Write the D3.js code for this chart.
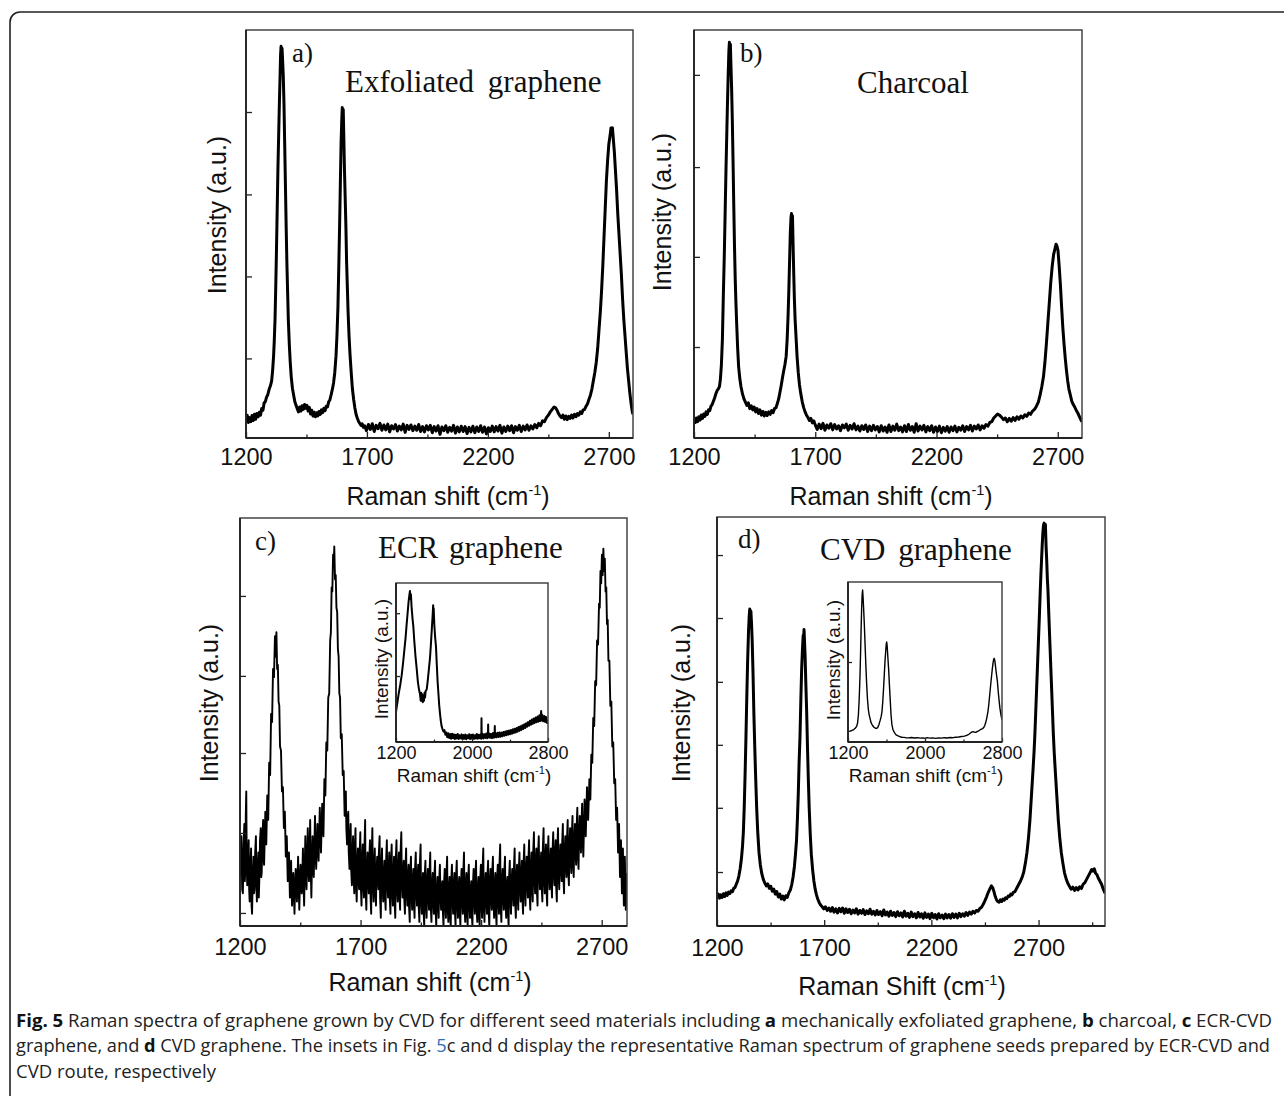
<!DOCTYPE html>
<html><head><meta charset="utf-8">
<script src="https://cdn.jsdelivr.net/npm/d3@7"></script>
<style>body{margin:0;background:#fff}</style>
</head><body>
<svg id="fig" width="1284" height="1096"></svg>
<script>
// ---------- DATA (Raman shift in cm-1, intensity in % of each panel's frame height) ----------
const ticksMainMajor = [1200, 1700, 2200, 2700];
const ticksMainMinor = [1450, 1950, 2450];
const ticksMainMinorD = [1450, 1950, 2450, 2950];
const ticksInset = [1200, 2000, 2800];
const ticksInsetMinor = [1600, 2400];
const yTicksA = [19.5, 39.6, 59.7, 79.9];
const yTicksB = [22.3, 44.4, 66.4, 89.0];
const yTicksC = [3.2, 22.8, 42.4, 61.3, 80.9];
const yTicksD = [13.2, 28.9, 44.3, 59.7, 75.3, 90.7];
const yTicksCi = [41.5, 81];
const yTicksDi = [50];

const specA = [[1200,4.2],[1205,5.6],[1210,3.8],[1215,5.0],[1220,4.0],[1225,5.5],[1230,4.3],[1235,5.8],[1240,4.6],[1245,6.0],[1250,5.2],[1255,6.3],[1260,5.6],[1265,7.2],[1270,6.8],[1275,8.6],[1280,8.9],[1285,10.0],[1290,10.6],[1296,12.0],[1301,12.8],[1306,14.0],[1310,16.5],[1314,20],[1317,24],[1320,29],[1323,37],[1326,46],[1329,56],[1332,66],[1335,74],[1338,82],[1341,89],[1343,94],[1345,96],[1347,92],[1349,95.5],[1351,93],[1354,89],[1357,82],[1360,72],[1363,62],[1366,52],[1369,43],[1372,36],[1375,29],[1379,23],[1383,18.5],[1387,15],[1392,12.2],[1397,10.5],[1402,8.9],[1407,8.0],[1412,7.2],[1417,6.4],[1422,7.6],[1427,6.6],[1432,7.9],[1437,7.0],[1442,8.2],[1447,7.3],[1452,8.0],[1457,6.6],[1462,7.5],[1467,5.9],[1472,6.8],[1477,5.4],[1482,6.3],[1487,5.2],[1492,6.2],[1497,5.4],[1502,6.5],[1507,5.8],[1512,6.9],[1517,6.2],[1522,7.3],[1527,6.7],[1532,7.8],[1537,7.6],[1542,8.9],[1547,9.4],[1552,10.6],[1557,11.9],[1562,13.5],[1567,16.0],[1572,20],[1576,25],[1580,32],[1584,43],[1587,52],[1590,62],[1593,72],[1596,78],[1598,81],[1600,79],[1602,80.5],[1604,75],[1607,66],[1610,59],[1613,52],[1616,43],[1619,37],[1622,31],[1626,25],[1630,20.5],[1635,16],[1640,12],[1645,9.5],[1650,7.4],[1655,5.8],[1660,4.9],[1665,4.1],[1670,3.6],[1675,3.1],[1680,3.5],[1685,2.6],[1690,3.0],[1698,1.8],[1706,3.3],[1714,2.1],[1722,3.5],[1730,1.6],[1738,3.1],[1746,2.3],[1754,3.6],[1762,1.9],[1770,3.2],[1778,2.0],[1786,3.4],[1794,1.5],[1802,3.0],[1810,2.2],[1818,3.3],[1826,1.7],[1834,2.9],[1842,2.0],[1850,3.4],[1858,1.4],[1866,3.1],[1874,2.1],[1882,3.2],[1890,1.8],[1898,2.9],[1906,1.9],[1914,3.3],[1922,1.6],[1930,2.8],[1938,1.5],[1946,3.0],[1954,2.0],[1962,3.1],[1970,1.3],[1978,2.8],[1986,1.7],[1994,3.0],[2002,0.9],[2010,2.7],[2018,1.8],[2026,3.0],[2034,1.4],[2042,2.6],[2050,1.7],[2058,3.1],[2066,1.2],[2074,2.7],[2082,1.5],[2090,2.9],[2098,1.6],[2106,2.8],[2114,1.1],[2122,2.6],[2130,1.5],[2138,2.9],[2146,1.3],[2154,2.7],[2162,1.6],[2170,3.0],[2178,1.4],[2186,2.7],[2194,1.0],[2202,2.5],[2210,1.6],[2218,2.9],[2226,1.5],[2234,2.8],[2242,1.7],[2250,3.1],[2258,1.2],[2266,2.7],[2274,1.6],[2282,2.9],[2290,1.8],[2298,3.0],[2306,1.3],[2314,2.8],[2322,1.9],[2330,3.1],[2338,1.6],[2346,2.9],[2354,2.0],[2362,3.2],[2370,1.9],[2378,3.0],[2386,2.2],[2394,3.3],[2402,2.5],[2410,3.6],[2418,3.0],[2426,4.2],[2434,4.0],[2442,5.0],[2450,5.6],[2458,6.4],[2466,7.0],[2474,7.6],[2480,7.4],[2486,6.8],[2492,6.0],[2498,5.4],[2504,5.0],[2510,5.6],[2516,4.6],[2522,5.4],[2528,4.5],[2534,5.3],[2540,4.8],[2546,5.6],[2552,4.9],[2558,5.8],[2564,5.2],[2570,6.0],[2576,5.6],[2582,6.4],[2588,6.0],[2594,6.9],[2600,7.0],[2606,7.8],[2612,8.4],[2618,9.5],[2624,10.5],[2630,12],[2636,14],[2642,16],[2648,18.5],[2654,22],[2660,27],[2665,31],[2670,36],[2675,42],[2680,49],[2685,56],[2690,63],[2695,68],[2700,72],[2705,74],[2709,76],[2712,75.5],[2715,76],[2719,73],[2723,70],[2727,66],[2732,61],[2737,55],[2742,50],[2747,45],[2752,40],[2757,34],[2762,29],[2767,25],[2772,21],[2777,17],[2782,14],[2787,11],[2792,8.5],[2797,6.5],[2800,5.8]];

const specB = [[1200,4.6],[1205,3.8],[1210,4.9],[1215,4.0],[1220,5.2],[1225,4.4],[1230,5.6],[1235,4.8],[1240,5.9],[1245,5.3],[1250,6.4],[1255,5.8],[1260,6.9],[1265,6.7],[1270,7.8],[1275,8.2],[1280,9.0],[1285,9.8],[1290,10.8],[1295,11.6],[1300,12.0],[1305,12.6],[1309,14.5],[1313,18],[1317,24],[1321,35],[1325,45],[1329,57],[1332,66],[1335,74],[1338,82],[1341,89],[1344,95],[1346,97],[1348,93],[1350,96.5],[1352,92],[1355,86],[1358,78],[1361,68],[1364,57],[1367,47],[1370,39],[1373,33],[1376,28],[1380,22],[1384,17.5],[1389,14.5],[1394,12.5],[1400,10.8],[1406,9.6],[1412,8.8],[1418,8.0],[1424,8.6],[1430,7.2],[1436,7.9],[1442,6.9],[1448,7.6],[1454,6.4],[1460,7.2],[1466,6.0],[1472,6.9],[1478,5.6],[1484,6.5],[1490,5.4],[1496,6.3],[1502,5.5],[1508,6.4],[1514,5.8],[1520,6.7],[1526,6.2],[1532,7.2],[1538,7.4],[1544,8.5],[1550,9.8],[1555,11.4],[1560,13],[1565,14.8],[1570,16.5],[1575,18],[1580,20],[1584,24],[1588,30],[1591,36],[1594,43],[1597,50],[1600,54],[1602,55],[1604,53],[1606,54.5],[1608,49],[1611,41],[1614,34],[1617,29],[1621,24.5],[1625,20],[1630,16],[1635,13],[1640,11],[1646,9],[1652,7.5],[1658,6.4],[1664,5.6],[1670,5.0],[1676,4.3],[1682,4.8],[1688,3.7],[1694,4.2],[1700,3.2],[1708,2.1],[1716,3.4],[1724,2.3],[1732,3.6],[1740,1.9],[1748,3.2],[1756,2.4],[1764,3.5],[1772,2.0],[1780,3.3],[1788,2.2],[1796,3.0],[1804,1.8],[1812,3.2],[1820,2.5],[1828,3.4],[1836,1.9],[1844,3.1],[1852,2.2],[1860,3.5],[1868,2.0],[1876,2.9],[1884,1.7],[1892,3.0],[1900,2.1],[1908,3.2],[1916,1.6],[1924,2.9],[1932,1.8],[1940,3.1],[1948,2.0],[1956,2.8],[1964,1.5],[1972,3.0],[1980,1.7],[1988,2.7],[1996,1.4],[2004,3.2],[2012,1.6],[2020,2.9],[2028,1.9],[2036,3.4],[2044,1.8],[2052,2.7],[2060,1.5],[2068,3.0],[2076,1.6],[2084,3.3],[2092,1.9],[2100,2.8],[2108,1.4],[2116,3.5],[2124,1.7],[2132,2.9],[2140,2.0],[2148,3.1],[2156,1.5],[2164,2.8],[2172,1.8],[2180,3.0],[2188,1.4],[2196,2.7],[2204,1.6],[2212,2.9],[2220,1.3],[2228,2.6],[2236,1.7],[2244,2.8],[2252,1.4],[2260,2.7],[2268,1.8],[2276,2.9],[2284,1.5],[2292,2.6],[2300,1.9],[2308,3.0],[2316,1.6],[2324,2.8],[2332,2.0],[2340,3.1],[2348,1.7],[2356,2.9],[2364,2.2],[2372,3.2],[2380,2.0],[2388,3.0],[2396,2.4],[2404,3.3],[2412,2.9],[2420,3.8],[2428,4.0],[2436,4.9],[2444,5.4],[2452,5.9],[2460,5.6],[2468,5.1],[2476,4.5],[2484,4.9],[2492,4.0],[2500,4.8],[2508,4.1],[2516,5.0],[2524,4.3],[2532,5.2],[2540,4.6],[2548,5.4],[2556,4.9],[2564,5.7],[2572,5.3],[2580,6.1],[2588,5.8],[2596,6.6],[2604,7.0],[2612,7.8],[2620,8.8],[2627,10.5],[2634,12.5],[2641,15],[2647,18.5],[2653,23],[2659,28],[2665,33],[2671,38],[2677,42],[2683,45],[2689,46.5],[2693,47.5],[2697,47],[2701,46],[2706,42],[2711,37.5],[2716,32],[2721,27],[2726,23],[2731,19.5],[2736,16.5],[2741,14],[2746,12],[2752,10.5],[2758,9.0],[2764,8.2],[2770,7.6],[2776,6.8],[2782,6.2],[2788,5.4],[2794,4.6],[2800,4.0]];

const specC = [[1200,12],[1203,19],[1206,22],[1209,9],[1212,8],[1215,20],[1218,25],[1220,11],[1222,14],[1224,27],[1226,33],[1228,15],[1230,10],[1233,17],[1236,21],[1238,9],[1240,6],[1243,14],[1246,19],[1248,5],[1250,3],[1253,12],[1256,17],[1258,8],[1260,9],[1263,18],[1266,22],[1268,10],[1270,6],[1273,14],[1276,18],[1278,7],[1280,11],[1283,21],[1286,24],[1288,12],[1290,13],[1293,22],[1296,26],[1298,16],[1300,15],[1305,28],[1309,20],[1313,32],[1317,26],[1321,40],[1325,37],[1329,52],[1333,50],[1337,63],[1341,61],[1345,71],[1348,66],[1351,72],[1354,63],[1357,64],[1360,55],[1363,54],[1366,44],[1370,43],[1374,33],[1378,34],[1382,24],[1386,28],[1390,17],[1394,22],[1398,11],[1403,18],[1407,7],[1410,12],[1412,16],[1414,8],[1416,5],[1419,10],[1421,13],[1424,7],[1426,3],[1429,11],[1431,14],[1434,9],[1436,6],[1439,13],[1441,17],[1444,8],[1446,4],[1449,12],[1451,15],[1454,10],[1456,8],[1459,14],[1461,19],[1464,9],[1466,5],[1469,16],[1471,22],[1474,12],[1476,9],[1479,18],[1481,24],[1484,14],[1486,11],[1489,20],[1491,26],[1494,12],[1496,7],[1499,17],[1501,22],[1504,15],[1506,12],[1509,21],[1511,27],[1514,17],[1516,14],[1519,20],[1521,25],[1524,19],[1526,16],[1529,24],[1531,29],[1534,21],[1536,18],[1539,26],[1541,30],[1544,25],[1546,22],[1550,36],[1554,32],[1558,45],[1562,43],[1566,56],[1570,57],[1574,70],[1577,72],[1580,83],[1583,82],[1586,91],[1589,88],[1591,93],[1594,85],[1597,86],[1600,78],[1603,77],[1606,68],[1609,66],[1612,57],[1615,56],[1618,46],[1622,47],[1626,37],[1630,38],[1634,27],[1636,31],[1639,33],[1641,24],[1644,20],[1646,25],[1649,28],[1651,18],[1654,14],[1656,21],[1659,25],[1661,14],[1664,10],[1666,17],[1669,22],[1671,12],[1674,8],[1676,18],[1679,24],[1681,11],[1684,6],[1686,14],[1689,19],[1691,12],[1694,9],[1696,17],[1699,23],[1701,10],[1704,5],[1706,15],[1709,20],[1711,11],[1714,7],[1716,19],[1719,26],[1721,9],[1724,4],[1726,13],[1729,18],[1731,12],[1734,8],[1736,16],[1739,21],[1741,8],[1744,3],[1746,17],[1749,24],[1751,11],[1754,6],[1756,14],[1759,19],[1761,9],[1764,5],[1766,13],[1769,17],[1771,12],[1774,9],[1776,18],[1779,22],[1781,7],[1784,2],[1786,14],[1789,19],[1791,10],[1794,6],[1796,12],[1799,16],[1801,8],[1804,4],[1806,16],[1809,21],[1811,11],[1814,7],[1816,13],[1819,18],[1821,7],[1824,3],[1826,15],[1829,20],[1831,9],[1834,5],[1836,12],[1839,17],[1841,6],[1844,2],[1846,16],[1849,21],[1851,10],[1854,6],[1856,13],[1859,18],[1861,8],[1864,4],[1866,18],[1869,23],[1871,11],[1874,7],[1876,12],[1879,16],[1881,7],[1884,3],[1886,14],[1889,19],[1891,9],[1894,5],[1896,11],[1899,15],[1901,5],[1904,1],[1906,13],[1909,17],[1911,8],[1914,4],[1916,10],[1919,14],[1921,6],[1924,2],[1926,14],[1929,18],[1931,9],[1934,5],[1936,11],[1939,15],[1941,5],[1944,1],[1946,15],[1949,20],[1951,7],[1954,3],[1956,9],[1959,13],[1961,4],[1964,0],[1966,12],[1969,16],[1971,6],[1974,2],[1976,10],[1979,14],[1981,8],[1984,4],[1986,13],[1989,18],[1991,5],[1994,1],[1996,9],[1999,13],[2001,7],[2004,3],[2006,12],[2009,16],[2011,4],[2014,0],[2016,8],[2019,12],[2021,6],[2024,2],[2026,11],[2029,15],[2031,8],[2034,4],[2036,8],[2039,11],[2041,4],[2044,0],[2046,10],[2049,14],[2051,6],[2054,2],[2056,12],[2059,17],[2061,5],[2064,1],[2066,8],[2069,12],[2071,3],[2074,0],[2076,11],[2079,15],[2081,7],[2084,3],[2086,9],[2089,13],[2091,4],[2094,0],[2096,12],[2099,16],[2101,6],[2104,2],[2106,8],[2109,12],[2111,4],[2114,0],[2116,10],[2119,14],[2121,7],[2124,3],[2126,13],[2129,18],[2131,5],[2134,1],[2136,9],[2139,13],[2141,4],[2144,0],[2146,11],[2149,15],[2151,6],[2154,2],[2156,8],[2159,11],[2161,3],[2164,0],[2166,10],[2169,14],[2171,7],[2174,3],[2176,12],[2179,16],[2181,5],[2184,1],[2186,8],[2189,12],[2191,3],[2194,0],[2196,11],[2199,15],[2201,6],[2204,2],[2206,14],[2209,19],[2211,5],[2214,1],[2216,9],[2219,13],[2221,7],[2224,3],[2226,12],[2229,16],[2231,4],[2234,0],[2236,10],[2239,14],[2241,8],[2244,4],[2246,13],[2249,17],[2251,6],[2254,2],[2256,9],[2259,13],[2261,4],[2264,0],[2266,11],[2269,15],[2271,7],[2274,3],[2276,15],[2279,20],[2281,5],[2284,1],[2286,10],[2289,14],[2291,8],[2294,4],[2296,13],[2299,17],[2301,6],[2304,2],[2306,9],[2309,12],[2311,4],[2314,0],[2316,12],[2319,16],[2321,7],[2324,3],[2326,10],[2329,14],[2331,9],[2334,5],[2336,14],[2339,19],[2341,6],[2344,2],[2346,11],[2349,15],[2351,8],[2354,4],[2356,13],[2359,18],[2361,10],[2364,6],[2366,12],[2369,16],[2371,7],[2374,3],[2376,15],[2379,20],[2381,9],[2384,5],[2386,13],[2389,17],[2391,11],[2394,7],[2396,16],[2399,21],[2401,8],[2404,4],[2406,14],[2409,18],[2411,10],[2414,6],[2416,18],[2419,23],[2421,12],[2424,8],[2426,15],[2429,19],[2431,9],[2434,5],[2436,17],[2439,22],[2441,13],[2444,9],[2446,14],[2449,18],[2451,10],[2454,6],[2456,19],[2459,24],[2461,12],[2464,8],[2466,16],[2469,20],[2471,9],[2474,5],[2476,17],[2479,22],[2481,13],[2484,9],[2486,15],[2489,19],[2491,11],[2494,7],[2496,18],[2499,23],[2501,14],[2504,10],[2506,17],[2509,21],[2511,10],[2514,6],[2516,19],[2519,24],[2521,13],[2524,9],[2526,16],[2529,20],[2531,15],[2534,11],[2536,20],[2539,25],[2541,12],[2544,8],[2546,17],[2549,22],[2551,16],[2554,12],[2556,21],[2559,26],[2561,14],[2564,10],[2566,19],[2569,24],[2571,17],[2574,13],[2576,22],[2579,27],[2581,16],[2584,12],[2586,20],[2589,25],[2591,19],[2594,15],[2596,24],[2599,29],[2601,18],[2604,14],[2606,22],[2609,27],[2611,22],[2614,18],[2616,25],[2619,30],[2621,21],[2624,17],[2629,31],[2634,22],[2639,34],[2644,26],[2649,36],[2653,31],[2657,42],[2661,40],[2665,51],[2669,49],[2673,60],[2677,59],[2681,70],[2685,69],[2689,79],[2692,78],[2695,87],[2698,84],[2701,91],[2704,86],[2707,92.5],[2710,87],[2713,90],[2716,82],[2719,83],[2722,74],[2725,75],[2728,65],[2732,65],[2736,54],[2740,55],[2744,44],[2748,45],[2752,35],[2756,36],[2760,26],[2764,29],[2768,18],[2772,25],[2776,12],[2780,21],[2784,8],[2788,19],[2792,5],[2796,17],[2800,4],[2805,13]];

const specD = [[1200,7.0],[1206,7.8],[1212,6.8],[1218,7.6],[1224,7.0],[1230,7.9],[1236,7.2],[1242,8.1],[1248,7.5],[1254,8.3],[1260,7.9],[1266,8.6],[1272,8.4],[1278,9.2],[1284,9.4],[1290,10.2],[1296,11.0],[1302,12.2],[1308,14.0],[1314,16.5],[1319,19.5],[1323,23],[1327,29],[1331,37],[1335,46],[1339,56],[1343,65],[1347,72],[1350,75.5],[1353,77.5],[1356,75],[1358,77],[1361,74],[1364,70],[1368,62],[1372,52],[1376,44],[1380,37],[1385,29],[1390,23],[1396,18],[1402,15],[1409,12.8],[1416,11.4],[1423,10.5],[1430,9.8],[1437,10.3],[1444,9.2],[1451,9.7],[1458,8.5],[1465,9.0],[1472,7.8],[1479,8.4],[1486,7.1],[1493,7.8],[1500,6.6],[1507,7.3],[1514,6.4],[1521,7.4],[1528,7.0],[1535,8.1],[1542,8.8],[1549,10.2],[1555,12],[1561,14.5],[1566,17.5],[1571,21],[1575,26],[1579,32],[1583,40],[1587,46],[1591,55],[1595,63],[1599,68],[1602,71],[1604,70],[1606,72.5],[1608,70],[1611,66],[1614,60],[1618,53],[1622,44],[1626,36],[1630,29],[1635,22.5],[1640,17.5],[1646,13.8],[1652,11],[1658,9.0],[1664,7.6],[1670,6.6],[1677,5.7],[1684,5.1],[1691,4.7],[1698,4.2],[1706,4.7],[1714,3.8],[1722,4.4],[1730,3.6],[1738,4.5],[1746,3.4],[1754,4.2],[1762,3.2],[1770,4.3],[1778,3.5],[1786,4.4],[1794,3.1],[1802,4.2],[1810,3.3],[1818,4.1],[1826,3.0],[1834,3.9],[1842,3.2],[1850,4.2],[1858,2.9],[1866,3.8],[1874,3.1],[1882,4.0],[1890,2.8],[1898,3.7],[1906,3.0],[1914,4.1],[1922,2.9],[1930,3.6],[1938,2.7],[1946,3.8],[1954,2.8],[1962,3.5],[1970,2.5],[1978,3.9],[1986,2.7],[1994,3.4],[2002,2.4],[2010,3.6],[2018,2.6],[2026,3.3],[2034,2.3],[2042,3.5],[2050,2.5],[2058,3.2],[2066,2.2],[2074,3.6],[2082,2.4],[2090,3.1],[2098,2.1],[2106,3.4],[2114,2.3],[2122,3.0],[2130,2.0],[2138,3.3],[2146,2.2],[2154,3.0],[2162,1.9],[2170,3.2],[2178,2.1],[2186,2.9],[2194,1.8],[2202,3.1],[2210,2.0],[2218,2.8],[2226,1.7],[2234,3.0],[2242,2.0],[2250,2.7],[2258,1.8],[2266,2.9],[2274,2.0],[2282,2.8],[2290,1.9],[2298,3.0],[2306,2.1],[2314,2.9],[2322,2.0],[2330,3.1],[2338,2.3],[2346,3.0],[2354,2.4],[2362,3.3],[2370,2.6],[2378,3.4],[2386,2.9],[2394,3.6],[2402,3.2],[2410,3.8],[2418,3.6],[2426,4.3],[2434,4.6],[2442,5.3],[2450,6.2],[2458,7.2],[2466,8.3],[2474,9.2],[2480,9.8],[2486,9.4],[2492,8.4],[2498,7.2],[2504,6.4],[2510,6.0],[2516,5.8],[2522,6.4],[2528,6.0],[2534,6.6],[2540,6.3],[2546,6.9],[2552,6.7],[2558,7.3],[2564,7.2],[2570,7.8],[2576,7.6],[2582,8.2],[2590,8.4],[2600,9.4],[2608,10.2],[2616,11],[2624,12],[2631,13.2],[2639,15.5],[2646,18],[2653,21.5],[2660,26],[2667,32],[2674,38],[2679,42.5],[2683,47],[2687,52.5],[2691,58],[2695,63.5],[2699,69],[2704,76],[2708,82],[2711,86],[2714,89.5],[2717,93],[2720,96],[2723,98],[2726,98.5],[2729,97.3],[2732,98.2],[2735,93],[2738,89.5],[2741,85],[2744,82],[2748,76],[2753,69],[2757,63.5],[2761,58],[2765,52.5],[2769,47],[2773,42.5],[2778,38],[2785,32],[2792,26],[2799,21.5],[2806,18],[2813,15.5],[2821,13],[2829,11.5],[2836,10.5],[2844,9.7],[2852,9.0],[2860,9.5],[2868,8.7],[2876,9.4],[2884,8.8],[2892,9.6],[2900,9.2],[2908,10.2],[2916,10.6],[2924,11.4],[2932,12.2],[2940,13.0],[2948,13.8],[2954,13.4],[2960,14.0],[2966,12.9],[2972,12.6],[2978,11.8],[2986,11.0],[2994,10.2],[3002,9.0],[3010,8.0]];

const specCi = [[1200,19],[1215,25],[1230,31],[1245,36],[1260,42],[1275,50],[1290,59],[1300,65],[1312,74],[1322,81],[1332,88],[1340,92],[1347,95],[1352,90],[1357,93],[1365,84],[1375,77],[1382,73],[1392,64],[1405,54],[1418,46],[1430,38],[1442,33],[1453,30],[1460,26],[1465,31],[1470,26],[1476,30],[1482,25],[1488,29],[1494,26],[1500,31],[1506,28],[1512,32],[1523,33],[1533,38],[1545,45],[1558,53],[1568,62],[1578,72],[1586,80],[1591,86],[1594,81],[1597,84],[1603,74],[1612,66],[1621,60],[1630,48],[1638,38],[1646,31],[1655,23],[1663,18],[1670,14],[1680,10],[1690,8],[1700,6.5],[1710,7.5],[1720,4.5],[1730,6],[1740,3],[1750,5.5],[1760,2.5],[1770,5],[1780,2],[1790,5.2],[1800,2.4],[1810,4.8],[1820,1.8],[1830,4.6],[1840,2.2],[1850,5.0],[1860,1.9],[1870,4.3],[1880,2.3],[1890,4.8],[1900,1.6],[1910,4.4],[1920,2.0],[1930,4.7],[1940,1.7],[1950,4.2],[1960,2.4],[1970,4.9],[1980,1.8],[1990,4.5],[2000,2.1],[2010,4.7],[2020,1.9],[2030,4.3],[2040,2.2],[2050,5.0],[2060,2.0],[2070,4.6],[2080,2.3],[2090,4.8],[2098,2.0],[2100,15],[2102,3],[2110,5.2],[2120,2.2],[2130,4.9],[2140,2.5],[2150,5.3],[2160,2.3],[2168,4.5],[2170,11],[2172,2.8],[2180,5.4],[2190,2.6],[2200,5.1],[2210,2.4],[2220,5.6],[2230,2.7],[2238,5.0],[2240,10],[2242,3],[2250,5.5],[2260,2.9],[2270,5.8],[2280,3.1],[2290,6.0],[2300,3.3],[2310,5.9],[2320,3.6],[2330,6.3],[2340,3.9],[2350,6.6],[2360,4.2],[2370,7.0],[2380,4.5],[2390,7.3],[2400,4.9],[2410,7.6],[2420,5.2],[2430,8.0],[2440,5.6],[2450,8.4],[2460,6.0],[2470,8.8],[2480,6.5],[2490,9.4],[2500,7.0],[2510,9.9],[2520,7.6],[2530,10.5],[2540,8.2],[2550,11.2],[2560,8.8],[2570,11.8],[2580,9.6],[2590,12.5],[2600,10.2],[2610,13.4],[2620,10.8],[2630,14.2],[2640,11.4],[2650,14.8],[2660,12.0],[2670,15.4],[2680,12.4],[2690,16.0],[2700,12.8],[2710,16.8],[2720,13.2],[2728,19.5],[2734,13.5],[2740,17.0],[2750,13.0],[2760,16.4],[2770,12.6],[2780,15.8],[2790,12.0],[2800,14.0]];

const specDi = [[1200,6.5],[1220,6.8],[1240,7.2],[1260,7.8],[1275,8.6],[1290,9.8],[1300,12],[1308,17],[1315,25],[1320,33],[1325,42],[1330,54],[1336,70],[1342,84],[1347,92],[1352,95],[1357,90],[1362,84],[1370,73],[1378,60],[1386,47],[1394,36],[1402,27],[1412,20],[1420,17],[1429,14.8],[1440,12],[1455,10.3],[1470,9.2],[1485,8.6],[1498,8.5],[1510,9.2],[1522,11],[1534,13.5],[1545,16],[1553,19],[1561,25],[1569,33],[1577,42],[1585,51],[1592,57],[1597,61],[1602,62.5],[1607,60],[1613,54],[1622,45.6],[1630,36],[1638,27],[1647,17],[1656,11],[1666,8],[1677,6.5],[1688,5.4],[1700,4.4],[1720,3.8],[1740,3.3],[1760,3.0],[1780,2.9],[1800,2.7],[1830,2.6],[1860,2.8],[1890,2.5],[1920,2.7],[1950,2.4],[1980,2.6],[2000,2.3],[2020,2.7],[2050,2.4],[2080,2.6],[2110,2.3],[2140,2.6],[2170,2.4],[2200,2.7],[2230,2.5],[2260,2.8],[2290,2.7],[2320,3.0],[2350,3.1],[2380,3.4],[2410,3.7],[2440,4.3],[2460,5.0],[2475,5.8],[2488,6.3],[2500,6.4],[2512,6.2],[2525,6.0],[2540,6.4],[2555,6.9],[2570,7.5],[2585,8.0],[2600,8.4],[2612,9.2],[2622,10.5],[2632,12.5],[2640,14.5],[2648,17],[2655,19.5],[2662,23],[2670,28],[2678,33],[2686,38],[2693,42],[2700,46],[2707,49.5],[2713,51.5],[2719,52.3],[2725,51],[2731,48],[2737,45],[2744,41.5],[2752,38],[2760,32],[2768,27],[2774,23.5],[2779,21],[2785,18.5],[2792,16],[2800,14]];

const panelLetters = ['a)', 'b)', 'c)', 'd)'];
const panelTitles = ['Exfoliated graphene', 'Charcoal', 'ECR graphene', 'CVD graphene'];
const xTitleMain = 'Raman shift (cm';
const xTitleD = 'Raman Shift (cm';
const xTitleSup = '-1';
const yTitle = 'Intensity (a.u.)';
const captionLines = [
  [['Fig. 5','b'],[' Raman spectra of graphene grown by CVD for different seed materials including ',''],['a','b'],[' mechanically exfoliated graphene, ',''],['b','b'],[' charcoal, ',''],['c','b'],[' ECR-CVD','']],
  [['graphene, and ',''],['d','b'],[' CVD graphene. The insets in Fig. ',''],['5','link'],['c and d display the representative Raman spectrum of graphene seeds prepared by ECR-CVD and','']],
  [['CVD route, respectively','']]
];

// ---------- DRAWING ----------
const SANS = "'Liberation Sans', Arial, Helvetica, sans-serif";
const SERIF = "'Liberation Serif', 'Times New Roman', serif";
const svg = d3.select('#fig');
const defs = svg.append('defs');

svg.append('rect').attr('x', 10).attr('y', 12).attr('width', 1300).attr('height', 1110)
  .attr('rx', 10).attr('fill', 'none').attr('stroke', '#222').attr('stroke-width', 1.6);

function xTitle(g, cx, baseline, main, fs) {
  const t = g.append('text').attr('x', cx).attr('y', baseline).attr('text-anchor', 'middle')
    .attr('font-family', SANS).attr('font-size', fs).attr('fill', '#111');
  t.append('tspan').text(main);
  t.append('tspan').attr('dy', -fs * 0.42).attr('font-size', fs * 0.58).text(xTitleSup);
  t.append('tspan').attr('dy', fs * 0.42).text(')');
}
function yTitleText(g, bx, cy, fs) {
  g.append('text').attr('transform', `translate(${bx},${cy}) rotate(-90)`).attr('text-anchor', 'middle')
    .attr('font-family', SANS).attr('font-size', fs).attr('fill', '#111').text(yTitle);
}

function panel(o) {
  const x = d3.scaleLinear().domain(o.xDomain).range([o.left, o.right]);
  const y = d3.scaleLinear().domain([0, 100]).range([o.bottom, o.top]);
  const g = svg.append('g');
  defs.append('clipPath').attr('id', 'clip' + o.id).append('rect')
    .attr('x', o.left).attr('y', o.top - 2).attr('width', o.right - o.left).attr('height', o.bottom - o.top + 2);
  if (o.inset) g.append('rect').attr('x', o.left).attr('y', o.top).attr('width', o.right - o.left)
    .attr('height', o.bottom - o.top).attr('fill', '#fff');
  g.append('path').datum(o.data).attr('clip-path', `url(#clip${o.id})`)
    .attr('fill', 'none').attr('stroke', '#000').attr('stroke-width', o.lw).attr('stroke-linejoin', 'round')
    .attr('d', d3.line().x(d => x(d[0])).y(d => y(d[1])));

  const xa = g.append('g').attr('transform', `translate(0,${o.bottom})`)
    .call(d3.axisBottom(x).tickValues(o.xMajor).tickSize(-o.tick).tickPadding(o.pad).tickFormat(d3.format('d')));
  xa.select('.domain').remove();
  xa.attr('font-family', SANS).attr('font-size', o.fs);
  xa.selectAll('text').attr('fill', '#111');
  xa.selectAll('line').attr('stroke', '#222').attr('stroke-width', 1.3);
  const xm = g.append('g').attr('transform', `translate(0,${o.bottom})`)
    .call(d3.axisBottom(x).tickValues(o.xMinor).tickSize(-o.tick * 0.6).tickFormat(''));
  xm.select('.domain').remove();
  xm.selectAll('line').attr('stroke', '#222').attr('stroke-width', 1.3);
  const ya = g.append('g').attr('transform', `translate(${o.left},0)`)
    .call(d3.axisLeft(y).tickValues(o.yTicks).tickSize(-o.tick).tickFormat(''));
  ya.select('.domain').remove();
  ya.selectAll('line').attr('stroke', '#222').attr('stroke-width', 1.3);

  g.append('rect').attr('x', o.left).attr('y', o.top).attr('width', o.right - o.left).attr('height', o.bottom - o.top)
    .attr('fill', 'none').attr('stroke', '#444').attr('stroke-width', 1.5);
  g.append('line').attr('x1', o.left).attr('x2', o.right).attr('y1', o.bottom).attr('y2', o.bottom)
    .attr('stroke', '#222').attr('stroke-width', 1.8);
  g.append('line').attr('x1', o.left).attr('x2', o.left).attr('y1', o.top).attr('y2', o.bottom)
    .attr('stroke', '#222').attr('stroke-width', 1.8);

  xTitle(g, o.xtCx, o.xtBase, o.xtText, o.tfs);
  yTitleText(g, o.ytBx, o.ytCy, o.tfs);
  if (o.letter) {
    g.append('text').attr('x', o.letter[1]).attr('y', o.letter[2]).attr('font-family', SERIF)
      .attr('font-size', 27).attr('fill', '#111').text(o.letter[0]);
    g.append('text').attr('x', o.title[1]).attr('y', o.title[2]).attr('font-family', SERIF)
      .attr('font-size', o.title[3]).attr('word-spacing', o.title[4]).attr('fill', '#111').text(o.title[0]);
  }
}

panel({id:'A', data:specA, xDomain:[1200,2800], left:246, right:633, top:30, bottom:438,
  xMajor:ticksMainMajor, xMinor:ticksMainMinor, yTicks:yTicksA, tick:6, pad:10, fs:23.5, lw:3,
  xtCx:448, xtBase:505, xtText:xTitleMain, tfs:25, ytBx:226, ytCy:215,
  letter:[panelLetters[0],292,62], title:[panelTitles[0],345,92,31,6]});
panel({id:'B', data:specB, xDomain:[1200,2800], left:694, right:1082, top:30, bottom:438,
  xMajor:ticksMainMajor, xMinor:ticksMainMinor, yTicks:yTicksB, tick:6, pad:10, fs:23.5, lw:3,
  xtCx:891, xtBase:505, xtText:xTitleMain, tfs:25, ytBx:671, ytCy:212,
  letter:[panelLetters[1],740,62], title:[panelTitles[1],857,93,31,0]});
panel({id:'C', data:specC, xDomain:[1200,2805], left:240, right:627, top:518, bottom:926,
  xMajor:ticksMainMajor, xMinor:ticksMainMinor, yTicks:yTicksC, tick:6, pad:12, fs:23.5, lw:1.9,
  xtCx:430, xtBase:991, xtText:xTitleMain, tfs:25, ytBx:218, ytCy:703,
  letter:[panelLetters[2],255,550], title:[panelTitles[2],378,558,31,3]});
panel({id:'D', data:specD, xDomain:[1200,3010], left:717, right:1105, top:517, bottom:926,
  xMajor:ticksMainMajor, xMinor:ticksMainMinorD, yTicks:yTicksD, tick:6, pad:13, fs:23.5, lw:3,
  xtCx:902, xtBase:995, xtText:xTitleD, tfs:25, ytBx:690, ytCy:703,
  letter:[panelLetters[3],738,548], title:[panelTitles[3],820,560,31,5]});
panel({id:'Ci', inset:true, data:specCi, xDomain:[1200,2800], left:396, right:548, top:583, bottom:742,
  xMajor:ticksInset, xMinor:ticksInsetMinor, yTicks:yTicksCi, tick:4, pad:4, fs:18, lw:2,
  xtCx:474, xtBase:782, xtText:xTitleMain, tfs:19, ytBx:388, ytCy:659});
panel({id:'Di', inset:true, data:specDi, xDomain:[1200,2800], left:848, right:1002, top:582, bottom:742,
  xMajor:ticksInset, xMinor:ticksInsetMinor, yTicks:yTicksDi, tick:4, pad:4, fs:18, lw:1.4,
  xtCx:926, xtBase:782, xtText:xTitleMain, tfs:19, ytBx:840, ytCy:660});

// caption
const capWidths = [1256, 1254, 200];
const capBase = [1027, 1052, 1078];
captionLines.forEach((line, i) => {
  const t = svg.append('text').attr('x', 16).attr('y', capBase[i])
    .attr('font-family', "'Liberation Sans Narrow', 'Open Sans', 'Liberation Sans', sans-serif")
    .attr('font-size', 17.5).attr('fill', '#222')
    .attr('textLength', capWidths[i]).attr('lengthAdjust', 'spacingAndGlyphs');
  line.forEach(([s, k]) => {
    const sp = t.append('tspan').text(s);
    if (k === 'b') sp.attr('font-weight', 'bold').attr('fill', '#111');
    if (k === 'link') sp.attr('fill', '#2f6db5');
  });
});
</script></body></html>
